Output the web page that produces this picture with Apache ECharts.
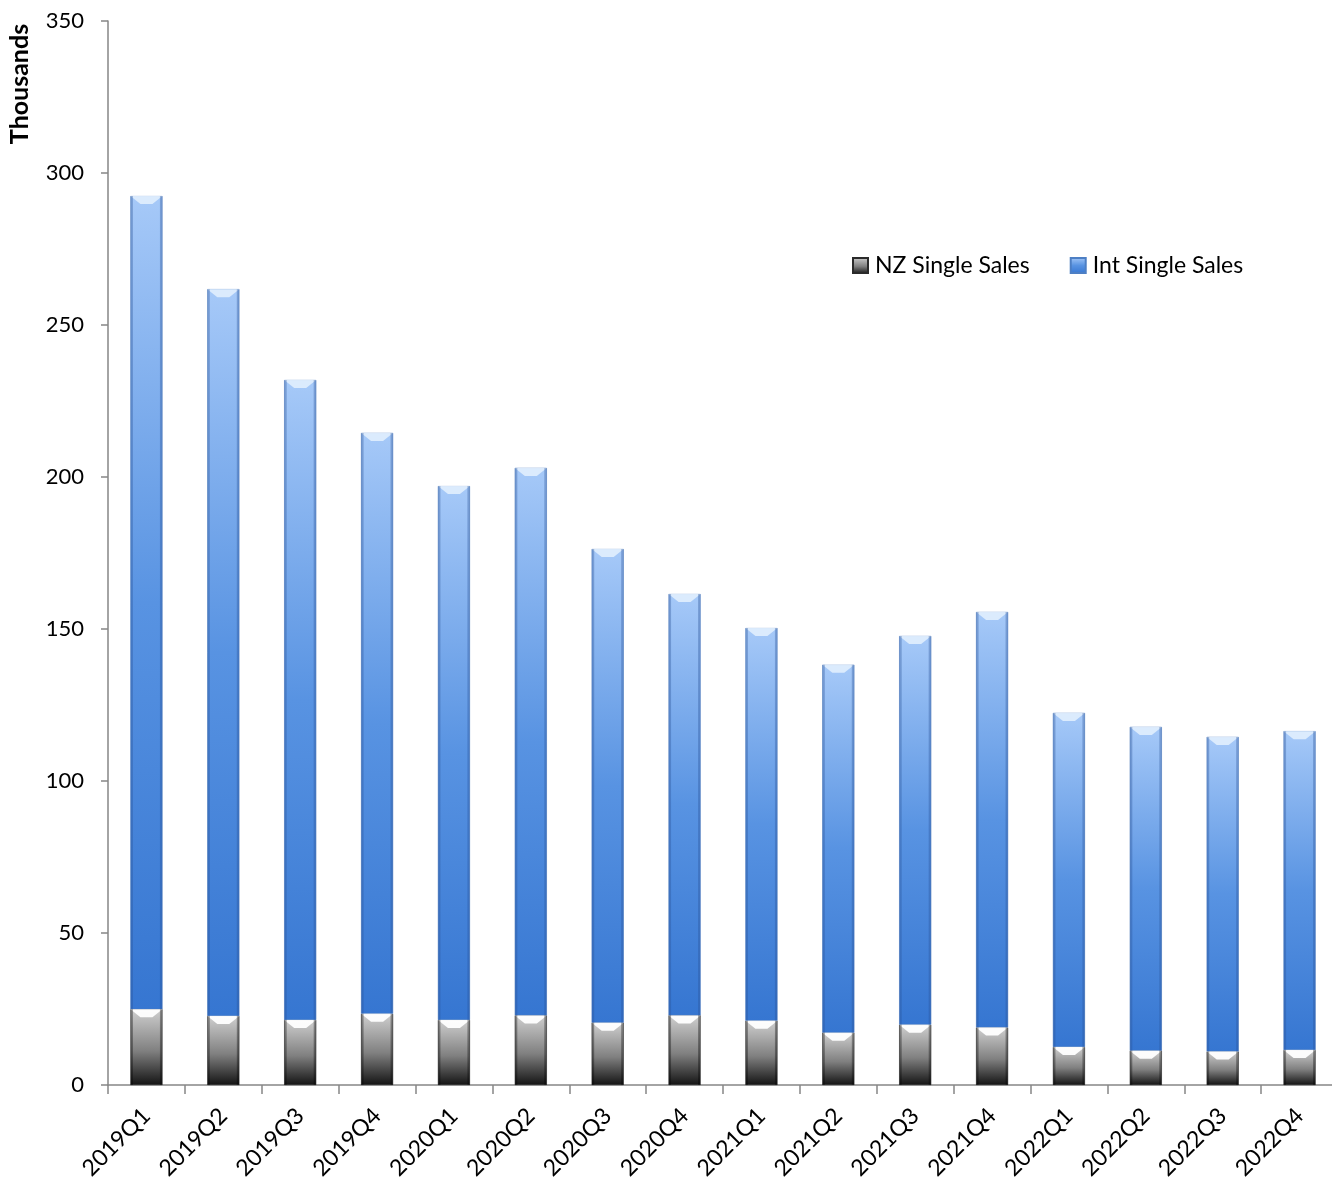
<!DOCTYPE html>
<html><head><meta charset="utf-8">
<script src="https://cdn.jsdelivr.net/npm/echarts@6/dist/echarts.min.js"></script>
<style>html,body{margin:0;padding:0;background:#fff;overflow:hidden}#c{width:1332px;height:1179px}</style>
</head><body><div id="c"></div>
<script>
const categories = ['2019Q1','2019Q2','2019Q3','2019Q4','2020Q1','2020Q2','2020Q3','2020Q4','2021Q1','2021Q2','2021Q3','2021Q4','2022Q1','2022Q2','2022Q3','2022Q4'];
const nzSingleSales = [24.9,22.7,21.4,23.4,21.4,22.9,20.5,22.9,21.1,17.2,19.8,18.9,12.5,11.3,11.0,11.5];
const intSingleSales = [267.5,239.1,210.5,191.1,175.6,180.1,155.8,138.6,129.2,121.0,127.9,136.7,109.9,106.5,103.5,104.9];
const yTicks = [0,50,100,150,200,250,300,350];

const FONT = 'Lato, "Open Sans", sans-serif';
const BW = 32;
const chart = echarts.init(document.getElementById('c'));
const nzGrad = new echarts.graphic.LinearGradient(0,0,0,1,[{offset:0,color:'#cfcfcf'},{offset:0.55,color:'#808080'},{offset:1,color:'#141414'}]);
const intGrad = new echarts.graphic.LinearGradient(0,0,0,1,[{offset:0,color:'#a6c9f8'},{offset:0.5,color:'#5893e2'},{offset:1,color:'#3676d1'}]);

// bevel decorations, positioned through the axes from the same data
const bevelData = categories.map((c,i)=>[i, nzSingleSales[i], nzSingleSales[i]+intSingleSales[i]]);
function renderBevel(params, api){
  const i = api.value(0);
  const children = [];
  const specs = [[api.value(1),'rgba(255,255,255,0.95)','rgba(0,0,0,0.35)'],[api.value(2),'rgba(225,238,253,0.9)','rgba(40,80,150,0.35)']];
  const base = api.coord([i,0]);
  let prevY = base[1];
  specs.forEach(s=>{
    const p = api.coord([i,s[0]]);
    const x0 = p[0]-BW/2, x1 = p[0]+BW/2, y = p[1];
    const h = 8, ins = 10;
    children.push({type:'polygon',shape:{points:[[x0,y],[x1,y],[x1-ins,y+h],[x0+ins,y+h]]},style:{fill:s[1]}});
    children.push({type:'rect',shape:{x:x0,y:y,width:2.5,height:prevY-y},style:{fill:s[2]}});
    children.push({type:'rect',shape:{x:x1-2.5,y:y,width:2.5,height:prevY-y},style:{fill:s[2]}});
    prevY = y;
  });
  return {type:'group',children:children};
}

chart.setOption({
  animation:false,
  backgroundColor:'#fff',
  grid:{left:108,right:-6,top:21,bottom:94,containLabel:false,outerBoundsMode:'none'},
  legend:{
    left:847, top:249, itemWidth:15, itemHeight:15, itemGap:40,
    textStyle:{fontFamily:FONT,fontSize:23,color:'#000',padding:[0,0,0,2]},
    data:[{name:'NZ Single Sales',icon:'rect'},{name:'Int Single Sales',icon:'rect'}]
  },
  graphic:[{type:'text',x:20,y:84,rotation:Math.PI/2,style:{text:'Thousands',font:'bold 25px '+FONT,fill:'#000',textAlign:'center',textVerticalAlign:'middle'}}],
  xAxis:{
    type:'category', data:categories, boundaryGap:true,
    axisLine:{lineStyle:{color:'#868686',width:1.5}},
    axisTick:{show:true,alignWithLabel:false,length:9,lineStyle:{color:'#868686',width:1.5}},
    axisLabel:{rotate:45,fontFamily:FONT,fontSize:23,color:'#000',margin:27,interval:0}
  },
  yAxis:{
    type:'value', min:0, max:350, interval:50,
    axisLine:{show:true,lineStyle:{color:'#868686',width:1.5}},
    axisTick:{show:true,length:7,lineStyle:{color:'#868686',width:1.5}},
    splitLine:{show:false},
    axisLabel:{fontFamily:FONT,fontSize:22,color:'#000',margin:24,
      formatter:v=>yTicks.includes(v)?String(v):''}
  },
  series:[
    {name:'NZ Single Sales',type:'bar',stack:'s',data:nzSingleSales,barWidth:BW,
     itemStyle:{color:nzGrad,borderColor:'#2a2a2a',borderWidth:0.5}},
    {name:'Int Single Sales',type:'bar',stack:'s',data:intSingleSales,barWidth:BW,
     itemStyle:{color:intGrad,borderColor:'#4d7fc4',borderWidth:0.5}},
    {type:'custom',data:bevelData,renderItem:renderBevel,z:5,silent:true,encode:{x:0,y:2}}
  ]
});
</script></body></html>
